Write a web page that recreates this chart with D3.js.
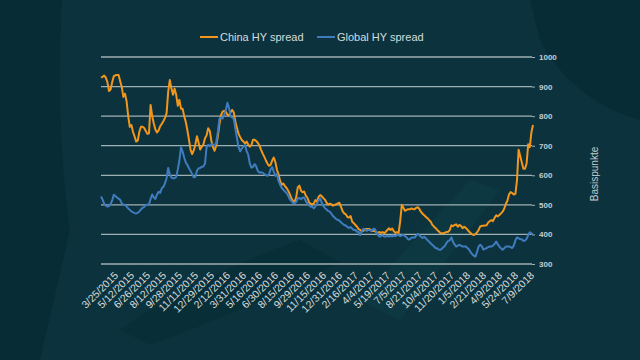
<!DOCTYPE html>
<html><head><meta charset="utf-8">
<script src="https://cdn.jsdelivr.net/npm/d3@7"></script>
<style>html,body{margin:0;padding:0;background:#0c333d;}svg{display:block;}</style>
</head><body>
<svg id="chart" width="640" height="360"></svg>
<script>
const dateLabels = ["3/25/2015","5/12/2015","6/26/2015","8/12/2015","9/28/2015","11/11/2015","12/29/2015","2/12/2016","3/31/2016","5/16/2016","6/30/2016","8/15/2016","9/29/2016","11/15/2016","12/31/2016","2/16/2017","4/4/2017","5/19/2017","7/5/2017","8/21/2017","10/4/2017","11/20/2017","1/5/2018","2/21/2018","4/9/2018","5/24/2018","7/9/2018"];
const seriesNames = ["China HY spread","Global HY spread"];
const yTicks = [300,400,500,600,700,800,900,1000];
// sampled observations (10 per label interval), starting one interval before 3/25/2015
const chinaHY = [
930,933,937,930,915,885,890,915,935,938,939,939,918,898,865,876,850,800,764,770,
747,731,714,718,748,764,764,760,750,740,742,838,800,775,755,745,752,766,774,783,
794,810,883,922,894,872,893,872,835,855,825,825,800,780,752,720,685,672,685,705,
732,710,687,697,704,725,735,759,750,716,695,683,700,732,772,803,815,818,815,805,
803,813,821,812,780,760,740,729,719,714,708,714,704,697,702,720,720,716,710,701,
687,674,663,651,640,632,635,650,660,644,618,602,580,568,572,563,557,548,536,522,
513,511,525,560,565,548,543,545,531,524,509,504,501,505,516,511,527,533,529,523,
517,507,501,504,502,497,500,502,505,507,493,479,471,468,459,457,462,443,438,432,
426,418,415,411,412,418,418,418,418,412,412,412,407,406,408,405,408,404,409,415,
421,415,420,411,405,408,405,445,500,490,480,483,485,485,488,486,485,490,492,486,
476,470,465,460,455,449,444,433,427,422,416,411,405,404,404,406,408,409,415,431,
428,432,434,426,432,429,421,426,422,416,410,405,400,398,401,407,415,427,429,429,
430,431,440,445,448,445,456,465,461,466,471,477,487,503,514,535,543,540,535,537,
584,686,665,643,622,622,640,705,695,745,770];
const globalHY = [
528,518,504,497,494,496,503,515,534,530,525,521,517,505,500,500,494,488,483,478,
475,472,471,473,478,485,490,493,500,500,502,520,535,525,520,535,544,540,556,561,
573,590,625,603,592,590,590,594,620,650,695,680,660,643,635,624,614,604,593,595,
615,624,625,629,630,640,695,703,698,706,704,699,710,745,790,795,792,805,820,845,
828,800,795,790,757,725,695,681,691,697,703,682,670,640,626,628,638,630,615,609,
610,609,604,601,598,603,620,628,612,598,605,580,568,557,551,545,540,531,519,513,
507,505,510,522,523,519,524,525,513,504,499,494,494,488,494,505,515,522,507,496,
489,484,479,477,470,462,457,452,449,447,441,436,432,430,425,422,425,420,415,415,
409,409,398,410,419,418,412,415,415,411,418,419,410,399,393,394,397,393,393,395,
393,395,393,396,394,398,398,394,397,398,395,390,383,384,389,390,389,396,402,397,
392,388,392,387,381,376,370,365,360,354,353,349,348,351,357,362,372,378,380,390,
375,366,359,362,365,362,359,359,359,354,349,340,333,328,325,340,359,365,360,349,
351,354,357,359,359,362,368,376,366,359,353,348,353,359,359,359,357,354,362,380,
390,387,384,384,378,379,385,398,407,403,401];
const labelStep = 10;

const svg = d3.select("#chart");
const W = 640, H = 360;
const plot = {left:101, right:533, top:57, bottom:264};

// background
svg.append("rect").attr("width",W).attr("height",H).attr("fill","#0c333d");
const bg = svg.append("g");
bg.append("path").attr("d","M0,0 L62,0 C58,80 60,160 70,230 L40,360 L0,360 Z").attr("fill","#062a33").attr("opacity",0.7);
bg.append("path").attr("d","M530,0 L640,0 L640,120 C600,110 560,80 540,40 Z").attr("fill","#072b34").attr("opacity",0.8);
bg.append("path").attr("d","M120,330 C160,300 240,260 300,240 L340,262 C300,285 220,320 150,345 Z").attr("fill","#072b34").attr("opacity",0.6);
bg.append("path").attr("d","M360,300 L470,180 L500,190 L400,320 Z").attr("fill","#10404a").attr("opacity",0.35);

const n = chinaHY.length;
const x = d3.scaleLinear().domain([0, n-1]).range([plot.left, plot.right]);
const y = d3.scaleLinear().domain([300,1000]).range([plot.bottom, plot.top]);

// gridlines
svg.append("g").selectAll("line").data(yTicks).join("line")
  .attr("x1",plot.left).attr("x2",plot.right-1)
  .attr("y1",d=>y(d)).attr("y2",d=>y(d))
  .attr("stroke","#9fb0b4").attr("stroke-width",1.3);

// right axis
const yAxis = d3.axisRight(y).tickValues(yTicks).tickSize(3).tickPadding(4).tickFormat(d3.format("d"));
const ya = svg.append("g").attr("transform",`translate(${plot.right-1},0)`).call(yAxis);
ya.select(".domain").remove();
ya.selectAll(".tick line").attr("stroke","#9fb0b4");
ya.selectAll("text").attr("fill","#c3cdd0").attr("font-family","Liberation Sans, Arial, sans-serif").attr("font-size",8).attr("font-weight","bold");

// x labels
const labelIdx = dateLabels.map((d,i)=>(i+1)*labelStep);
svg.append("g").selectAll("text").data(dateLabels).join("text")
  .attr("transform",(d,i)=>`translate(${x(labelIdx[i])+2},276) rotate(-45)`)
  .attr("text-anchor","end")
  .attr("fill","#d5dcde").attr("font-family","Liberation Sans, Arial, sans-serif").attr("font-size",10.5)
  .text(d=>d);

// axis title
svg.append("text").attr("transform","translate(598,174) rotate(-90)")
  .attr("text-anchor","middle").attr("fill","#c3cdd0")
  .attr("font-family","Liberation Sans, Arial, sans-serif").attr("font-size",10)
  .text("Basispunkte");

// lines
const line = d3.line().x((d,i)=>x(i)).y(d=>y(d));
svg.append("path").datum(chinaHY).attr("d",line).attr("fill","none").attr("stroke","#f2961c").attr("stroke-width",2).attr("stroke-linejoin","round");
svg.append("path").datum(globalHY).attr("d",line).attr("fill","none").attr("stroke","#3f7cbf").attr("stroke-width",2).attr("stroke-linejoin","round");

// legend
const colors = ["#f2961c","#3f7cbf"];
const legX = [200, 317];
const leg = svg.append("g");
seriesNames.forEach((s,i)=>{
  leg.append("line").attr("x1",legX[i]).attr("x2",legX[i]+18).attr("y1",37).attr("y2",37).attr("stroke",colors[i]).attr("stroke-width",2);
  leg.append("text").attr("x",legX[i]+20).attr("y",41).attr("fill","#d5dcde")
    .attr("font-family","Liberation Sans, Arial, sans-serif").attr("font-size",11).text(s);
});
</script>
</body></html>
